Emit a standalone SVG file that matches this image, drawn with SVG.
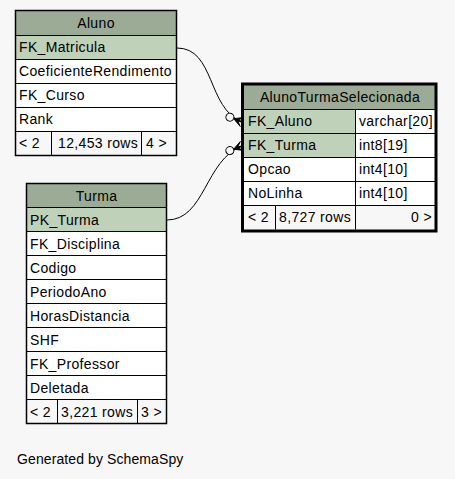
<svg xmlns="http://www.w3.org/2000/svg" width="455" height="479" viewBox="0 0 455 479">
<style>
text{font-family:"Liberation Sans",Arial,sans-serif;font-size:14px;letter-spacing:0.35px;fill:#000}
.hd{fill:#9bab96}
.sel{fill:#bfd1b8}
.row{fill:#ffffff}
.ft{fill:#f7f7f7}
.sep{stroke:#000;stroke-width:1;fill:none}
.box{stroke:#000;stroke-width:1.5;fill:none}
.thick{stroke:#000;stroke-width:3;fill:none}
.c{text-anchor:middle}
.r{text-anchor:end}
.gen{letter-spacing:0.1px}
.edge{fill:none;stroke:#000;stroke-width:1}
</style>
<defs>
<marker id="crowodot" markerUnits="userSpaceOnUse" orient="auto" refX="0" refY="0" markerWidth="1" markerHeight="1" overflow="visible">
<polygon points="-9,0 0,-4.8 -4,-0.8 0,0 -4,0.8 0,4.8" fill="#000" stroke="#000" stroke-width="0.8"/>
<circle cx="-13" cy="0" r="4" fill="#f7f7f7" stroke="#000" stroke-width="1"/>
</marker>
</defs>
<rect x="0" y="0" width="455" height="479" fill="#f7f7f7"/>

<g id="Aluno">
<rect class="hd" x="15" y="10" width="162" height="25.5"/>
<rect class="sel" x="15" y="35.5" width="162" height="24"/>
<rect class="row" x="15" y="59.5" width="162" height="72"/>
<rect class="ft" x="15" y="131.5" width="162" height="24"/>
<path class="sep" d="M15,35.5H177M15,59.5H177M15,83.5H177M15,107.5H177M15,131.5H177M51.5,131.5V155.5M141.5,131.5V155.5"/>
<rect class="box" x="15.5" y="10.5" width="161" height="145"/>
<text class="c" x="96" y="27.5">Aluno</text>
<text x="19" y="52">FK_Matricula</text>
<text x="19" y="76">CoeficienteRendimento</text>
<text x="19" y="100">FK_Curso</text>
<text x="19" y="124">Rank</text>
<text x="19" y="148">&lt; 2</text>
<text x="58" y="148">12,453 rows</text>
<text x="146" y="148">4 &gt;</text>
</g>

<g id="AlunoTurmaSelecionada">
<rect class="hd" x="242" y="84" width="194" height="25.5"/>
<rect class="sel" x="242" y="109.5" width="113.5" height="48"/>
<rect class="row" x="355.5" y="109.5" width="80.5" height="48"/>
<rect class="row" x="242" y="157.5" width="194" height="48"/>
<rect class="ft" x="242" y="205.5" width="194" height="25"/>
<path class="sep" d="M242,109.5H436M242,133.5H436M242,157.5H436M242,181.5H436M242,205.5H436M355.5,109.5V229.5M275.5,205.5V229.5"/>
<rect class="thick" x="242.5" y="84" width="193.5" height="147"/>
<text class="c" x="340" y="102">AlunoTurmaSelecionada</text>
<text x="248" y="126">FK_Aluno</text>
<text x="359" y="126">varchar[20]</text>
<text x="248" y="150">FK_Turma</text>
<text x="359" y="150">int8[19]</text>
<text x="248" y="174">Opcao</text>
<text x="359" y="174">int4[10]</text>
<text x="248" y="198">NoLinha</text>
<text x="359" y="198">int4[10]</text>
<text x="248" y="222">&lt; 2</text>
<text x="279" y="222">8,727 rows</text>
<text class="r" x="432" y="222">0 &gt;</text>
</g>

<g id="Turma">
<rect class="hd" x="26" y="183" width="141" height="24.5"/>
<rect class="sel" x="26" y="207.5" width="141" height="24"/>
<rect class="row" x="26" y="231.5" width="141" height="168"/>
<rect class="ft" x="26" y="399.5" width="141" height="24"/>
<path class="sep" d="M26,207.5H167M26,231.5H167M26,255.5H167M26,279.5H167M26,303.5H167M26,327.5H167M26,351.5H167M26,375.5H167M26,399.5H167M57.5,399.5V423.5M137.5,399.5V423.5"/>
<rect class="box" x="26.5" y="183.5" width="140" height="240"/>
<text class="c" x="96.5" y="200.5">Turma</text>
<text x="30" y="224.5">PK_Turma</text>
<text x="30" y="248.5">FK_Disciplina</text>
<text x="30" y="272.5">Codigo</text>
<text x="30" y="296.5">PeriodoAno</text>
<text x="30" y="320.5">HorasDistancia</text>
<text x="30" y="344.5">SHF</text>
<text x="30" y="368.5">FK_Professor</text>
<text x="30" y="392.5">Deletada</text>
<text x="30" y="416.5">&lt; 2</text>
<text x="61" y="416.5">3,221 rows</text>
<text x="141" y="416.5">3 &gt;</text>
</g>

<g id="connectors">
<path class="edge" d="M177,48 C215,48 207,108 242,122" marker-end="url(#crowodot)"/>
<path class="edge" d="M167,220 C205,220 205,160 242,146" marker-end="url(#crowodot)"/>
</g>

<text class="gen" x="17" y="464">Generated by SchemaSpy</text>
</svg>
